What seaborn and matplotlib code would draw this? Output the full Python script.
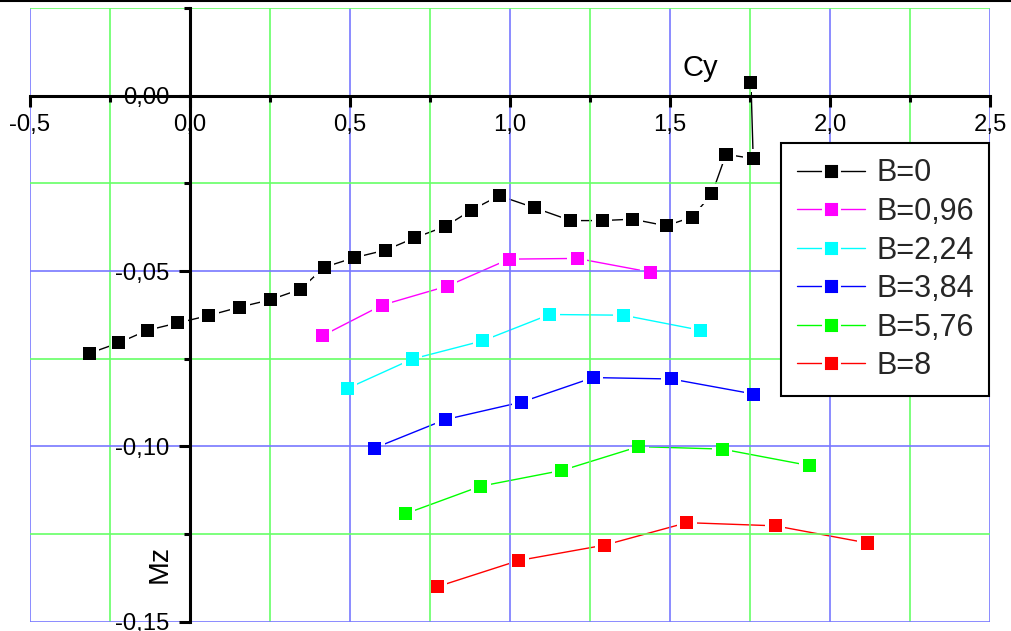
import matplotlib
matplotlib.use("Agg")
import matplotlib.pyplot as plt
from matplotlib.lines import Line2D
from matplotlib.ticker import FixedLocator, MultipleLocator
import pandas as pd
import seaborn as sns

# Series names and colours
labels = ["B=0", "B=0,96", "B=2,24", "B=3,84", "B=5,76", "B=8"]
colors = ["#000000", "#FF00FF", "#00FFFF", "#0000FF", "#00FF00", "#FF0000"]

# Lift coefficient Cy and pitching moment Mz for each B
cy_b0 = [-0.315, -0.223, -0.133, -0.038, 0.058, 0.155, 0.251, 0.345, 0.420,
         0.513, 0.612, 0.703, 0.797, 0.880, 0.966, 1.078, 1.190, 1.288,
         1.383, 1.488, 1.569, 1.631, 1.675, 1.760, 1.753]
mz_b0 = [-0.0735, -0.0705, -0.0669, -0.0648, -0.0627, -0.0603, -0.0582,
         -0.0552, -0.0489, -0.0462, -0.0440, -0.0405, -0.0373, -0.0326,
         -0.0285, -0.0320, -0.0356, -0.0356, -0.0352, -0.0371, -0.0346,
         -0.0280, -0.0167, -0.0179, 0.0038]

cy_b096 = [0.413, 0.601, 0.804, 0.997, 1.210, 1.438]
mz_b096 = [-0.0685, -0.0597, -0.0543, -0.0466, -0.0464, -0.0503]

cy_b224 = [0.492, 0.695, 0.915, 1.124, 1.354, 1.596]
mz_b224 = [-0.0835, -0.0751, -0.0699, -0.0624, -0.0626, -0.0669]

cy_b384 = [0.577, 0.797, 1.036, 1.260, 1.504, 1.762]
mz_b384 = [-0.1005, -0.0924, -0.0874, -0.0804, -0.0808, -0.0851]

cy_b576 = [0.672, 0.908, 1.162, 1.402, 1.663, 1.935]
mz_b576 = [-0.1193, -0.1114, -0.1069, -0.1001, -0.1008, -0.1055]

cy_b8 = [0.772, 1.027, 1.296, 1.553, 1.829, 2.117]
mz_b8 = [-0.1401, -0.1326, -0.1282, -0.1218, -0.1227, -0.1276]

x_ticks = [-0.5, 0.0, 0.5, 1.0, 1.5, 2.0, 2.5]
x_tick_labels = ["-0,5", "0,0", "0,5", "1,0", "1,5", "2,0", "2,5"]
y_ticks = [0.0, -0.05, -0.10, -0.15]
y_tick_labels = ["0,00", "-0,05", "-0,10", "-0,15"]

sns.set_style("white")
plt.rcParams["font.family"] = ["Liberation Sans", "DejaVu Sans"]

cys = [cy_b0, cy_b096, cy_b224, cy_b384, cy_b576, cy_b8]
mzs = [mz_b0, mz_b096, mz_b224, mz_b384, mz_b576, mz_b8]
df = pd.concat(
    [pd.DataFrame({"Cy": xs, "Mz": ys, "B": lab}) for lab, xs, ys in zip(labels, cys, mzs)],
    ignore_index=True,
)
palette = dict(zip(labels, colors))

fig = plt.figure(figsize=(10.11, 6.31), dpi=100)
ax = fig.add_axes([30 / 1011, 9.5 / 631, 960 / 1011, 613.3 / 631])

# connecting lines, drawn in measurement order
sns.lineplot(data=df, x="Cy", y="Mz", hue="B", hue_order=labels, palette=palette,
             sort=False, estimator=None, lw=1.0, legend=False, zorder=1, ax=ax)
# white halo so each line stops short of its marker
sns.scatterplot(data=df, x="Cy", y="Mz", color="white", marker="s", s=190,
                linewidth=0, legend=False, zorder=2, ax=ax)
# square markers
sns.scatterplot(data=df, x="Cy", y="Mz", hue="B", hue_order=labels, palette=palette,
                marker="s", s=88, linewidth=0, legend=False, zorder=3.5, ax=ax)

ax.set_xlim(-0.5, 2.5)
ax.set_ylim(-0.15, 0.025)
ax.set_xlabel("")
ax.set_ylabel("")

ax.xaxis.set_major_locator(FixedLocator(x_ticks))
ax.xaxis.set_minor_locator(MultipleLocator(0.25))
ax.set_xticklabels(x_tick_labels)
ax.yaxis.set_major_locator(FixedLocator(y_ticks))
ax.yaxis.set_minor_locator(MultipleLocator(0.025))
ax.set_yticklabels(y_tick_labels)

ax.set_axisbelow(False)
ax.grid(which="major", color="#7878FF", lw=1.2)
ax.grid(which="minor", color="#66FF66", lw=1.2)

for side in ("top", "right"):
    ax.spines[side].set_visible(False)
ax.spines["left"].set_position(("data", 0))
ax.spines["bottom"].set_position(("data", 0))
for side in ("left", "bottom"):
    ax.spines[side].set_linewidth(2.2)
    ax.spines[side].set_color("black")
    ax.spines[side].set_zorder(3)

ax.tick_params(which="both", bottom=True, left=True, top=False, right=False)
ax.tick_params(which="major", direction="out", length=8, width=2.2,
               labelsize=17.2, color="black", labelcolor="black")
ax.tick_params(which="minor", direction="out", length=4, width=2.2, color="black")
ax.tick_params(axis="x", which="major", pad=5)
ax.tick_params(axis="y", which="major", pad=7)

ax.text(1.54, 0.0057, "Cy", fontsize=21, ha="left", va="baseline", color="black")
ax.text(-0.0535, -0.1337, "Mz", fontsize=20.5, rotation=90, ha="right", va="center",
        color="black")

handles = [Line2D([0], [0], color=c, lw=1.0, marker="s", markersize=11.3,
                  markerfacecolor=c, markeredgecolor="white", markeredgewidth=2.1)
           for c in colors]
leg = ax.legend(handles, labels, loc="upper right", bbox_to_anchor=(0.999, 0.780),
                borderaxespad=0, fontsize=22, frameon=True, fancybox=False,
                edgecolor="black", framealpha=1, handlelength=2.25, handletextpad=0.35,
                borderpad=0.5, labelspacing=0.28)
leg.get_frame().set_linewidth(1.5)
leg.set_zorder(5)

fig.add_artist(Line2D([0, 1], [1 - 1 / 631, 1 - 1 / 631], transform=fig.transFigure,
                      color="black", lw=1.5))

fig.savefig("out.png", dpi=100)
